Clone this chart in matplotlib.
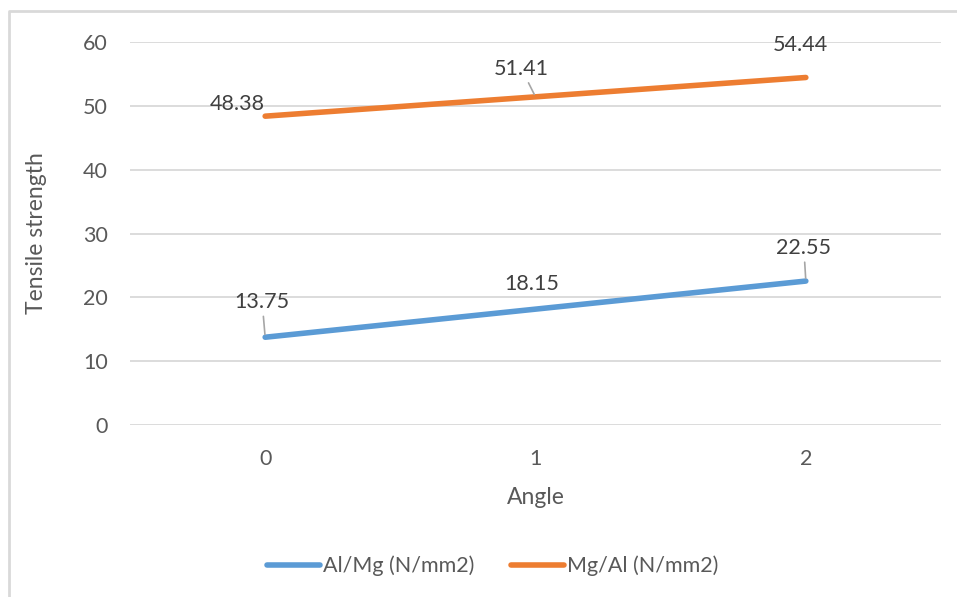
import matplotlib.pyplot as plt
from matplotlib.lines import Line2D

angle = [0, 1, 2]
al_mg = [13.75, 18.15, 22.55]
mg_al = [48.38, 51.41, 54.44]

# label offsets in pixels (dx, dy) and whether a leader line is drawn
al_mg_offsets = [(-3, 35, True), (-4, 25, False), (-2, 33, True)]
mg_al_offsets = [(-28, 12, False), (-14, 28, True), (-5, 32, False)]

plt.rcParams['font.family'] = ['Lato', 'DejaVu Sans']
grey = '#595959'

fig = plt.figure(figsize=(9.57, 5.97), dpi=100)
ax = fig.add_axes([130 / 957, 1 - 425 / 597, 811 / 957, 383 / 597])

ax.plot(angle, al_mg, color='#5B9BD5', lw=4, solid_capstyle='round',
        label='Al/Mg (N/mm2)', zorder=3)
ax.plot(angle, mg_al, color='#ED7D31', lw=4, solid_capstyle='round',
        label='Mg/Al (N/mm2)', zorder=3)

for xs, ys, offs in [(angle, al_mg, al_mg_offsets), (angle, mg_al, mg_al_offsets)]:
    for x, y, (dx, dy, lead) in zip(xs, ys, offs):
        kw = {}
        if lead:
            kw['arrowprops'] = dict(arrowstyle='-', color='#A6A6A6', lw=1.2,
                                    shrinkA=1, shrinkB=2)
        ax.annotate(f'{y:.2f}', (x, y), xytext=(dx, dy), textcoords='offset pixels',
                    ha='center', va='center', fontsize=15.5, color='#404040',
                    zorder=4, **kw)

ax.set_xlim(-0.5, 2.5)
ax.set_ylim(0, 60)
ax.set_xticks(angle)
ax.set_yticks(range(0, 61, 10))
ax.grid(axis='y', color='#D9D9D9', lw=1.3)
ax.set_axisbelow(True)
for s in ax.spines.values():
    s.set_visible(False)
ax.tick_params(length=0, labelsize=15.5, colors=grey)
ax.tick_params(axis='y', pad=16)
ax.tick_params(axis='x', pad=17)

ax.set_xlabel('Angle', fontsize=16.5, color=grey, labelpad=13)
ax.set_ylabel('Tensile strength', fontsize=16.5, color=grey, labelpad=26)

fig.legend(*ax.get_legend_handles_labels(), loc='center',
           bbox_to_anchor=(493 / 957, 1 - 566 / 597), ncol=2, frameon=False,
           fontsize=15.5, labelcolor=grey, handlelength=2.45, handletextpad=0.15,
           columnspacing=1.7)

# chart border (only the top and left edges remain)
fig.add_artist(Line2D([9 / 957, 9 / 957, 1], [0, 586 / 597, 586 / 597],
                      transform=fig.transFigure, color='#D9D9D9', lw=2))

fig.savefig('out.png', dpi=100, facecolor='white')
